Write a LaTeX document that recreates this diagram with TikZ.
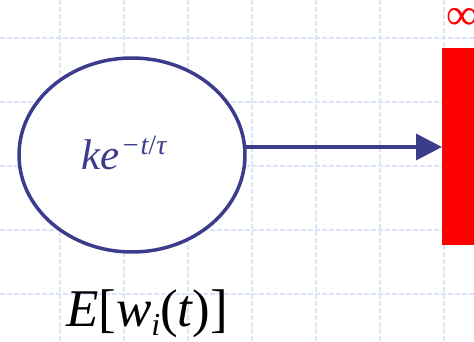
\documentclass[tikz,border=0pt]{standalone}
\usepackage{fontspec}
\setmainfont{Liberation Serif}
\newfontfamily\timesfont{Liberation Serif}
\usetikzlibrary{shapes.geometric,arrows.meta,positioning}
\definecolor{navy}{RGB}{60,60,140}
\definecolor{gridblue}{RGB}{220,228,252}

\begin{document}
\begin{tikzpicture}[x=1pt,y=-1pt,
  every node/.style={inner sep=0pt,outer sep=0pt,font=\timesfont},
  gridline/.style={gridblue,line width=1.3pt,dash pattern=on 5pt off 2pt},
  decay/.style={ellipse,draw=navy,line width=3.5pt,fill=white,minimum width=226pt,minimum height=194pt},
  bar/.style={rectangle,fill=red,minimum width=32pt,minimum height=197pt},
  flow/.style={draw=navy,line width=3.5pt,-{Triangle[length=26pt,width=26pt]}}
]
\useasboundingbox (0,0) rectangle (474,342);
% background grid
\foreach \gx in {60,124,...,444} \draw[gridline] (\gx,0) -- (\gx,342);
\foreach \gy in {38,102,...,294} \draw[gridline] (0,\gy) -- (474,\gy);
% ellipse and its labels
\node[decay] (expo) at (132,155) {};
\node[text=navy,anchor=base] (rate) at (124,170)
  {\fontsize{43}{43}\selectfont\itshape ke\hspace{3pt}\raisebox{15pt}{\fontsize{28}{28}\selectfont\upshape −\hspace{2pt}\itshape t\upshape/\itshape τ}};
\node[anchor=base] (mean) at (147,326)
  {\fontsize{53}{53}\selectfont\itshape E\upshape[\itshape w\raisebox{-9pt}{\fontsize{32}{32}\selectfont i}\upshape(\itshape t\upshape)]};
% red bar
\node[bar] (wall) at (458,146.5) {};
\node[text=red,anchor=west] (inf) at (446,19) {\fontsize{44}{44}\selectfont ∞};
\draw[flow] ([yshift=8pt]expo.east) -- ([yshift=8pt]expo.east -| wall.west);
\end{tikzpicture}
\end{document}
